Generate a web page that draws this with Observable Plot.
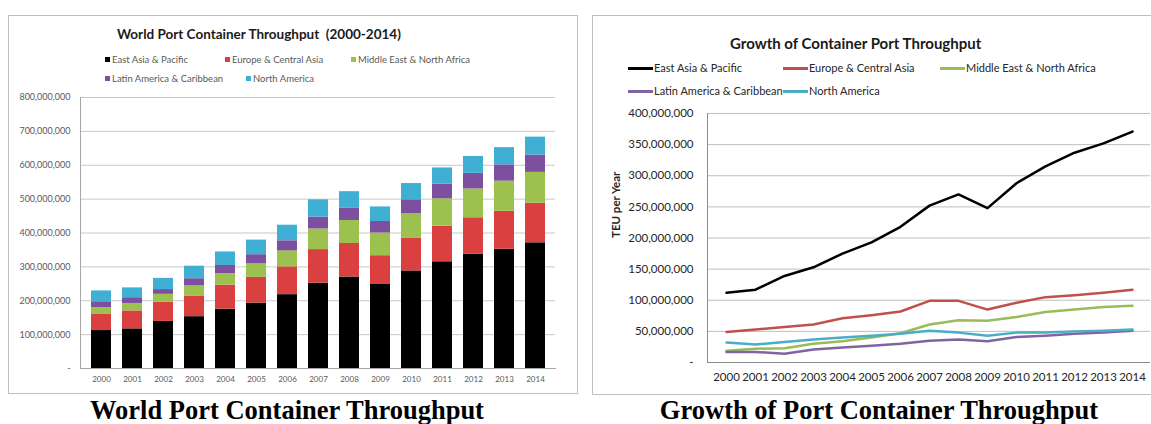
<!DOCTYPE html>
<html>
<head>
<meta charset="utf-8">
<script src="https://cdn.jsdelivr.net/npm/d3@7"></script>
<script src="https://cdn.jsdelivr.net/npm/@observablehq/plot@0.6"></script>
<style>
  html, body { margin: 0; padding: 0; background: #fff; }
  #page { position: relative; width: 1151px; height: 424px; overflow: hidden; background: #fff; font-family: Lato, "Liberation Sans", sans-serif; }
  .frame { position: absolute; border: 1px solid #bfbfbf; box-sizing: border-box; }
  .abs { position: absolute; white-space: pre; line-height: 1; }
  .svgbox { position: absolute; }
  .sq { display: inline-block; width: 5px; height: 5px; margin-right: 2px; vertical-align: middle; position: relative; top: -1px; }
  .ln { display: inline-block; width: 25px; height: 3px; margin-right: 1px; vertical-align: middle; position: relative; top: -1px; }
  .caption { position: absolute; font-family: "Liberation Serif", "Times New Roman", serif; font-weight: bold; font-size: 26.5px; line-height: 1; color: #000; white-space: nowrap; transform: translateX(-50%); }
</style>
</head>
<body>
<div id="page">
  <div class="frame" style="left:8px; top:15px; width:570px; height:379px;"></div>
  <div class="frame" style="left:592px; top:15px; width:560px; height:380px;"></div>
  <div id="leftTitle" class="abs" style="left:117px; top:28px; font-size:13.5px; font-weight:bold; color:#1a1a1a;"></div>
  <div id="leftLegend"></div>
  <div id="leftChart" class="svgbox" style="left:9px; top:88px;"></div>
  <div id="rightTitle" class="abs" style="left:730px; top:36px; font-size:15px; font-weight:bold; color:#1a1a1a;"></div>
  <div id="rightLegend"></div>
  <div id="rightChart" class="svgbox" style="left:593px; top:100px;"></div>
  <div id="cap1" class="caption" style="left:287px; top:397px;"></div>
  <div id="cap2" class="caption" style="left:879px; top:397px;"></div>
</div>
<script>
// ---------- data (TEU, millions) ----------
const years = [2000, 2001, 2002, 2003, 2004, 2005, 2006, 2007, 2008, 2009, 2010, 2011, 2012, 2013, 2014];
const regions = ["East Asia & Pacific", "Europe & Central Asia", "Middle East & North Africa", "Latin America & Caribbean", "North America"];
const eastAsiaPacific = [112, 117, 139, 153, 175, 193, 218, 252, 270, 248, 288, 315, 337, 352, 371];
const europeCentralAsia = [49, 53, 57, 61, 71, 76, 82, 99, 99, 85, 96, 105, 108, 112, 117];
const middleEastNorthAfrica = [19, 22, 23, 30, 34, 40, 47, 61, 68, 67, 73, 81, 85, 89, 91];
const latinAmericaCaribbean = [17, 17, 14, 21, 24, 27, 30, 35, 37, 34, 41, 43, 46, 48, 51];
const northAmerica = [32, 29, 33, 37, 40, 43, 46, 51, 48, 43, 48, 48, 50, 51, 53];
const leftYTicks = [0, 100e6, 200e6, 300e6, 400e6, 500e6, 600e6, 700e6, 800e6];
const rightYTicks = [0, 50e6, 100e6, 150e6, 200e6, 250e6, 300e6, 350e6, 400e6];

const leftTitle = "World Port Container Throughput  (2000-2014)";
const rightTitle = "Growth of Container Port Throughput";
const rightYLabel = "TEU per Year";
const caption1 = "World Port Container Throughput";
const caption2 = "Growth of Port Container Throughput";

const barColors = ["#000000", "#d9403f", "#9dc14f", "#7c4f9f", "#3fb0d4"];
const lineColors = ["#000000", "#c0504d", "#9bbb59", "#8064a2", "#4bacc6"];

const series = [eastAsiaPacific, europeCentralAsia, middleEastNorthAfrica, latinAmericaCaribbean, northAmerica];
const rows = [];
regions.forEach((r, i) => years.forEach((y, j) => rows.push({region: r, year: y, value: series[i][j] * 1e6})));

const fmt = d => d === 0 ? "-" : d3.format(",")(d);

// ---------- titles / captions ----------
document.getElementById("leftTitle").textContent = leftTitle;
document.getElementById("rightTitle").textContent = rightTitle;
document.getElementById("cap1").textContent = caption1;
document.getElementById("cap2").textContent = caption2;

// ---------- left legend ----------
const leftLegendPos = [[105, 55], [225, 55], [351, 55], [105, 74], [246, 74]];
const ll = document.getElementById("leftLegend");
regions.forEach((r, i) => {
  const d = document.createElement("div");
  d.className = "abs";
  d.style.left = leftLegendPos[i][0] + "px";
  d.style.top = leftLegendPos[i][1] + "px";
  d.style.fontSize = "9.5px";
  d.style.color = "#595959";
  d.innerHTML = `<span class="sq" style="background:${barColors[i]}"></span>`;
  d.appendChild(document.createTextNode(r));
  ll.appendChild(d);
});

// ---------- right legend ----------
const rightLegendPos = [[628, 62], [783, 62], [940, 62], [628, 85], [783, 85]];
const rl = document.getElementById("rightLegend");
regions.forEach((r, i) => {
  const d = document.createElement("div");
  d.className = "abs";
  d.style.left = rightLegendPos[i][0] + "px";
  d.style.top = rightLegendPos[i][1] + "px";
  d.style.fontSize = "11px";
  d.style.color = "#262626";
  d.innerHTML = `<span class="ln" style="background:${lineColors[i]}"></span>`;
  d.appendChild(document.createTextNode(r));
  rl.appendChild(d);
});

// ---------- left: stacked bars ----------
const left = Plot.plot({
  width: 568, height: 305,
  marginLeft: 71, marginRight: 22, marginTop: 9, marginBottom: 25,
  style: {fontFamily: "Lato, 'Liberation Sans', sans-serif", fontSize: "8px", color: "#595959", background: "transparent"},
  x: {type: "band", domain: years, paddingInner: 0.365, paddingOuter: 0.22, label: null, tickSize: 0, tickPadding: 8, tickFormat: d => String(d)},
  y: {domain: [0, 800e6], ticks: leftYTicks, tickFormat: fmt, label: null, tickSize: 0, tickPadding: 10},
  color: {domain: regions, range: barColors},
  marks: [
    Plot.gridY(leftYTicks, {stroke: "#c8c8c8", strokeOpacity: 1}),
    Plot.barY(rows, {x: "year", y: "value", fill: "region", order: regions}),
    Plot.frame({anchor: "left", stroke: "#a6a6a6"}),
    Plot.frame({anchor: "bottom", stroke: "#a6a6a6"}),
    Plot.axisY({ticks: leftYTicks, tickFormat: fmt, tickSize: 0, tickPadding: 10, fontSize: 9, label: null})
  ]
});
document.getElementById("leftChart").appendChild(left);

// ---------- right: lines ----------
const right = Plot.plot({
  width: 557, height: 294,
  marginLeft: 114, marginRight: 0, marginTop: 13, marginBottom: 32,
  style: {fontFamily: "Lato, 'Liberation Sans', sans-serif", fontSize: "11.5px", color: "#262626", background: "transparent"},
  x: {type: "point", domain: years, padding: 0.5, label: null, tickSize: 0, tickPadding: 10, tickFormat: d => String(d)},
  y: {domain: [0, 400e6], ticks: rightYTicks, tickFormat: fmt, label: null, tickSize: 0, tickPadding: 14},
  color: {domain: regions, range: lineColors},
  marks: [
    Plot.gridY(rightYTicks, {stroke: "#bfbfbf", strokeOpacity: 1}),
    Plot.frame({anchor: "left", stroke: "#8c8c8c"}),
    Plot.frame({anchor: "bottom", stroke: "#8c8c8c"}),
    Plot.line(rows, {x: "year", y: "value", stroke: "region", z: "region", strokeWidth: 2.5}),
    Plot.text([rightYLabel], {frameAnchor: "left", dx: -91, rotate: -90, fontWeight: "bold", fontSize: 11.5, fill: "#262626"})
  ]
});
document.getElementById("rightChart").appendChild(right);
</script>
</body>
</html>
